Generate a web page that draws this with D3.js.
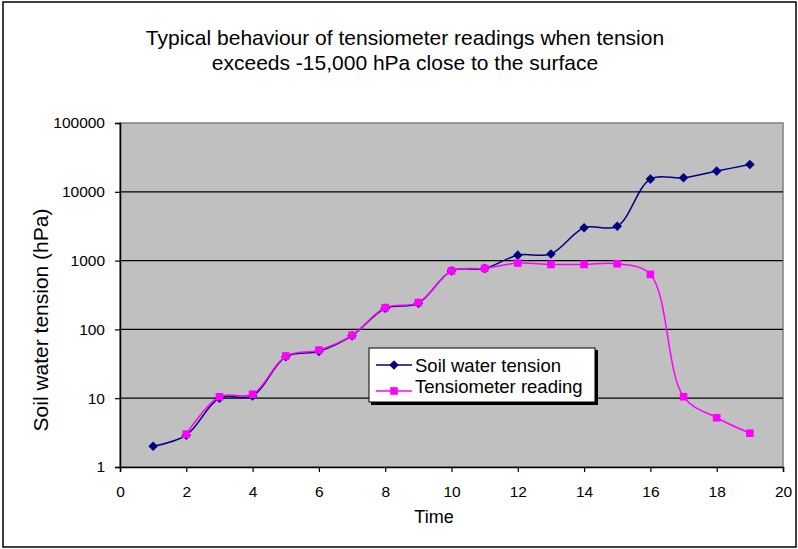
<!DOCTYPE html>
<html>
<head>
<meta charset="utf-8">
<script src="https://cdn.jsdelivr.net/npm/d3@7"></script>
<style>
  body { margin: 0; background: #fff; }
  text { font-family: "Liberation Sans", Arial, sans-serif; fill: #000; }
</style>
</head>
<body>
<svg id="chart" width="798" height="549"></svg>
<script>
const titleLines = ['Typical behaviour of tensiometer readings when tension', 'exceeds -15,000 hPa close to the surface']
const seriesNames = ['Soil water tension', 'Tensiometer reading']

// time steps and readings (hPa)
const soilTime = [1, 2, 3, 4, 5, 6, 7, 8, 9, 10, 11, 12, 13, 14, 15, 16, 17, 18, 19]
const soilTension = [2, 2.9, 10, 10.8, 40, 48, 81, 203, 240, 710, 770, 1200, 1250, 3000, 3150, 15300, 16000, 20000, 25000]
const tensioTime = [2, 3, 4, 5, 6, 7, 8, 9, 10, 11, 12, 13, 14, 15, 16, 17, 18, 19]
const tensioReading = [3, 10.5, 11.4, 41, 50, 82, 207, 245, 710, 770, 920, 880, 880, 900, 630, 10.5, 5.2, 3.1]

const xTicks = [0, 2, 4, 6, 8, 10, 12, 14, 16, 18, 20]
const yTicks = [1, 10, 100, 1000, 10000, 100000]

const svg = d3.select('#chart')
const plot = { left: 120, right: 783, top: 123, bottom: 467 }

// outer chart border
svg.append('rect')
  .attr('x', 3).attr('y', 2).attr('width', 793).attr('height', 545)
  .attr('fill', 'none').attr('stroke', '#000').attr('stroke-width', 1.5)

const x = d3.scaleLinear().domain([0, 20]).range([plot.left, plot.right])
const y = d3.scaleLog().domain([1, 100000]).range([plot.bottom, plot.top])

svg.append('rect')
  .attr('x', plot.left).attr('y', plot.top)
  .attr('width', plot.right - plot.left).attr('height', plot.bottom - plot.top)
  .attr('fill', '#c0c0c0').attr('stroke', '#808080').attr('stroke-width', 1.5)

// gridlines
svg.append('g')
  .selectAll('line')
  .data(yTicks.slice(1, -1))
  .join('line')
  .attr('x1', plot.left).attr('x2', plot.right)
  .attr('y1', d => y(d)).attr('y2', d => y(d))
  .attr('stroke', '#000').attr('stroke-width', 1.2)

const yAxis = svg.append('g')
  .attr('transform', `translate(${plot.left},0)`)
  .call(d3.axisLeft(y).tickValues(yTicks).tickFormat(d3.format('d')).tickSize(5).tickPadding(10))
const xAxis = svg.append('g')
  .attr('transform', `translate(0,${plot.bottom})`)
  .call(d3.axisBottom(x).tickValues(xTicks).tickSize(5).tickPadding(14))

for (const ax of [yAxis, xAxis]) {
  ax.select('.domain').attr('stroke', '#000').attr('stroke-width', 1.5)
  ax.selectAll('.tick line').attr('stroke', '#000').attr('stroke-width', 1.2)
  ax.selectAll('.tick text').attr('font-size', '15.5px').attr('font-family', '"Liberation Sans", Arial, sans-serif').attr('fill', '#000')
}

const line = d3.line()
  .curve(d3.curveCatmullRom.alpha(0.5))
  .x(d => x(d[0]))
  .y(d => y(d[1]))

const soilData = soilTime.map((t, i) => [t, soilTension[i]])
const tensioData = tensioTime.map((t, i) => [t, tensioReading[i]])

// square turned 45 degrees, as wide as it is tall
const wideDiamond = {
  draw(ctx, size) {
    const r = Math.sqrt(size / 2)
    ctx.moveTo(0, -r)
    ctx.lineTo(r, 0)
    ctx.lineTo(0, r)
    ctx.lineTo(-r, 0)
    ctx.closePath()
  }
}
const diamond = d3.symbol().type(wideDiamond).size(46)
const square = d3.symbol().type(d3.symbolSquare).size(58)

svg.append('path').datum(soilData)
  .attr('fill', 'none').attr('stroke', '#000080').attr('stroke-width', 1.5)
  .attr('d', line)
svg.append('g').selectAll('path')
  .data(soilData)
  .join('path')
  .attr('d', diamond)
  .attr('transform', d => `translate(${x(d[0])},${y(d[1])})`)
  .attr('fill', '#000080')

svg.append('path').datum(tensioData)
  .attr('fill', 'none').attr('stroke', '#ff00ff').attr('stroke-width', 1.5)
  .attr('d', line)
svg.append('g').selectAll('path')
  .data(tensioData)
  .join('path')
  .attr('d', square)
  .attr('transform', d => `translate(${x(d[0])},${y(d[1])})`)
  .attr('fill', '#ff00ff')

// title
svg.append('text')
  .attr('x', 405).attr('y', 45)
  .attr('text-anchor', 'middle').attr('font-size', '21px')
  .selectAll('tspan')
  .data(titleLines)
  .join('tspan')
  .attr('x', 405)
  .attr('dy', (d, i) => i === 0 ? 0 : 24.5)
  .text(d => d)

svg.append('text')
  .attr('transform', 'translate(48,320) rotate(-90)')
  .attr('text-anchor', 'middle').attr('font-size', '21px')
  .text('Soil water tension (hPa)')

svg.append('text')
  .attr('x', 434).attr('y', 523)
  .attr('text-anchor', 'middle').attr('font-size', '18px')
  .text('Time')

// legend
const legend = svg.append('g').attr('transform', 'translate(369,348)')
legend.append('rect')
  .attr('x', 2).attr('y', 2).attr('width', 227).attr('height', 55).attr('fill', '#000')
legend.append('rect')
  .attr('width', 226).attr('height', 54)
  .attr('fill', '#fff').attr('stroke', '#000').attr('stroke-width', 1)
const legendItems = [
  { name: seriesNames[0], color: '#000080', sym: diamond },
  { name: seriesNames[1], color: '#ff00ff', sym: square }
]
const rows = legend.selectAll('g.item')
  .data(legendItems)
  .join('g')
  .attr('class', 'item')
  .attr('transform', (d, i) => `translate(0,${17 + i * 26})`)
rows.append('line')
  .attr('x1', 7).attr('x2', 43).attr('y1', 0).attr('y2', 0)
  .attr('stroke', d => d.color).attr('stroke-width', 1.5)
rows.append('path')
  .attr('d', d => d.sym())
  .attr('transform', 'translate(25,0)')
  .attr('fill', d => d.color)
rows.append('text')
  .attr('x', 46).attr('y', (d, i) => i === 0 ? 7 : 2)
  .attr('font-size', '18.5px')
  .text(d => d.name)
</script>
</body>
</html>
